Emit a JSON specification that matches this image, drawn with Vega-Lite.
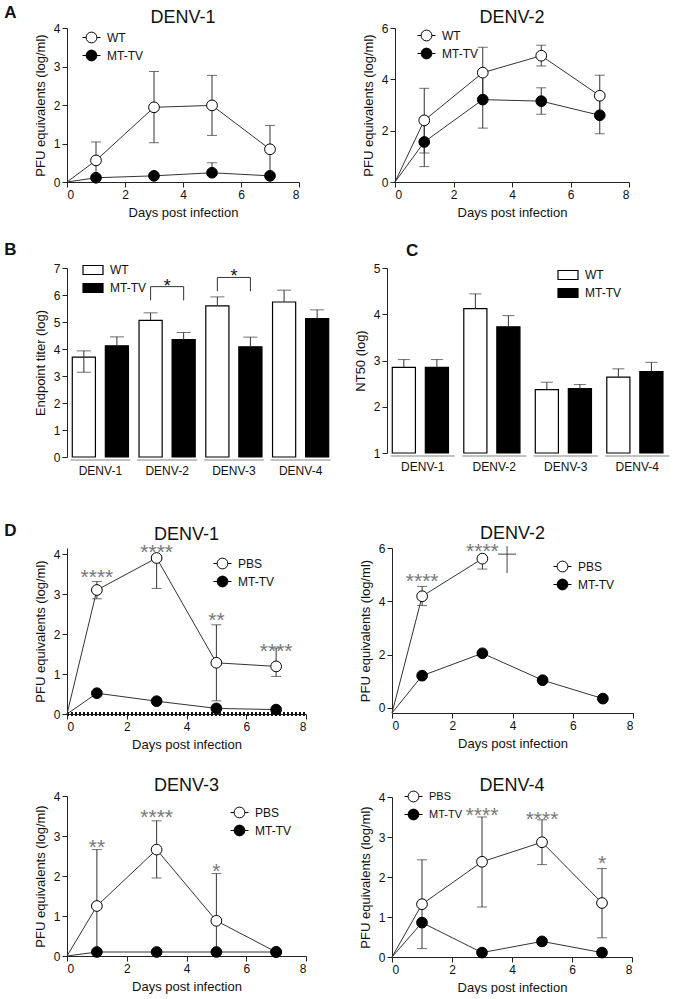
{
 "$schema": "https://vega.github.io/schema/vega-lite/v6.json",
 "padding": {"left": 4, "top": 4, "right": 0, "bottom": 0},
 "config": {
  "font": "Liberation Sans",
  "view": {"stroke": null},
  "axis": {"grid": false, "domainColor": "#222", "tickColor": "#222", "labelColor": "#111", "titleColor": "#111", "labelFontSize": 12, "titleFontSize": 13, "titleFontWeight": "normal", "tickSize": 5, "labelPadding": 2, "titlePadding": 6},
  "title": {"fontSize": 18, "fontWeight": "normal", "color": "#111"},
  "legend": {"labelFontSize": 12, "labelColor": "#111", "padding": 0, "rowPadding": 1, "labelOffset": 6, "symbolStrokeColor": "black", "symbolStrokeWidth": 1}
 },
 "resolve": {"scale": {"fill": "independent"}, "legend": {"fill": "independent"}},
 "datasets": {
  "tc": [
   {"panel":"A1","group":"WT","day":0,"mean":0},
   {"panel":"A1","group":"WT","day":1,"mean":0.56,"lo":0.08,"hi":1.04},
   {"panel":"A1","group":"WT","day":3,"mean":1.94,"lo":1.02,"hi":2.87},
   {"panel":"A1","group":"WT","day":5,"mean":1.99,"lo":1.21,"hi":2.77},
   {"panel":"A1","group":"WT","day":7,"mean":0.85,"lo":0.22,"hi":1.47},
   {"panel":"A1","group":"MT-TV","day":0,"mean":0},
   {"panel":"A1","group":"MT-TV","day":1,"mean":0.11},
   {"panel":"A1","group":"MT-TV","day":3,"mean":0.16},
   {"panel":"A1","group":"MT-TV","day":5,"mean":0.24,"lo":0.24,"hi":0.5},
   {"panel":"A1","group":"MT-TV","day":7,"mean":0.16},
   {"panel":"A2","group":"WT","day":0,"mean":0},
   {"panel":"A2","group":"WT","day":1,"mean":2.40,"lo":1.13,"hi":3.65},
   {"panel":"A2","group":"WT","day":3,"mean":4.26,"lo":3.27,"hi":5.25},
   {"panel":"A2","group":"WT","day":5,"mean":4.92,"lo":4.52,"hi":5.33},
   {"panel":"A2","group":"WT","day":7,"mean":3.36,"lo":2.56,"hi":4.16},
   {"panel":"A2","group":"MT-TV","day":0,"mean":0},
   {"panel":"A2","group":"MT-TV","day":1,"mean":1.56,"lo":0.60,"hi":2.52},
   {"panel":"A2","group":"MT-TV","day":3,"mean":3.21,"lo":2.10,"hi":4.32},
   {"panel":"A2","group":"MT-TV","day":5,"mean":3.15,"lo":2.64,"hi":3.67},
   {"panel":"A2","group":"MT-TV","day":7,"mean":2.60,"lo":1.88,"hi":3.32},
   {"panel":"D1","group":"PBS","day":0,"mean":0},
   {"panel":"D1","group":"PBS","day":1,"mean":3.10,"lo":2.88,"hi":3.31},
   {"panel":"D1","group":"PBS","day":3,"mean":3.90,"lo":3.14,"hi":3.90},
   {"panel":"D1","group":"PBS","day":5,"mean":1.28,"lo":0.33,"hi":2.23},
   {"panel":"D1","group":"PBS","day":7,"mean":1.19,"lo":0.94,"hi":1.65},
   {"panel":"D1","group":"MT-TV","day":0,"mean":0},
   {"panel":"D1","group":"MT-TV","day":1,"mean":0.52},
   {"panel":"D1","group":"MT-TV","day":3,"mean":0.32},
   {"panel":"D1","group":"MT-TV","day":5,"mean":0.14},
   {"panel":"D1","group":"MT-TV","day":7,"mean":0.11},
   {"panel":"D2","group":"PBS","day":0,"mean":-0.19},
   {"panel":"D2","group":"PBS","day":1,"mean":4.19,"lo":3.84,"hi":4.56},
   {"panel":"D2","group":"PBS","day":3,"mean":5.60,"lo":5.21,"hi":5.60},
   {"panel":"D2","group":"MT-TV","day":0,"mean":-0.19},
   {"panel":"D2","group":"MT-TV","day":1,"mean":1.21},
   {"panel":"D2","group":"MT-TV","day":3,"mean":2.05},
   {"panel":"D2","group":"MT-TV","day":5,"mean":1.04},
   {"panel":"D2","group":"MT-TV","day":7,"mean":0.35},
   {"panel":"D3","group":"PBS","day":0,"mean":0},
   {"panel":"D3","group":"PBS","day":1,"mean":1.25,"lo":0.10,"hi":2.66},
   {"panel":"D3","group":"PBS","day":3,"mean":2.66,"lo":1.95,"hi":3.38},
   {"panel":"D3","group":"PBS","day":5,"mean":0.88,"lo":0.10,"hi":2.06},
   {"panel":"D3","group":"PBS","day":7,"mean":0.10},
   {"panel":"D3","group":"MT-TV","day":0,"mean":0},
   {"panel":"D3","group":"MT-TV","day":1,"mean":0.10},
   {"panel":"D3","group":"MT-TV","day":3,"mean":0.10},
   {"panel":"D3","group":"MT-TV","day":5,"mean":0.10},
   {"panel":"D3","group":"MT-TV","day":7,"mean":0.10},
   {"panel":"D4","group":"PBS","day":0,"mean":0},
   {"panel":"D4","group":"PBS","day":1,"mean":1.32,"lo":0.21,"hi":2.43},
   {"panel":"D4","group":"PBS","day":3,"mean":2.38,"lo":1.25,"hi":3.50},
   {"panel":"D4","group":"PBS","day":5,"mean":2.87,"lo":2.31,"hi":3.43},
   {"panel":"D4","group":"PBS","day":7,"mean":1.35,"lo":0.48,"hi":2.21},
   {"panel":"D4","group":"MT-TV","day":0,"mean":0},
   {"panel":"D4","group":"MT-TV","day":1,"mean":0.86},
   {"panel":"D4","group":"MT-TV","day":3,"mean":0.11},
   {"panel":"D4","group":"MT-TV","day":5,"mean":0.39},
   {"panel":"D4","group":"MT-TV","day":7,"mean":0.11}
  ],
  "stars": [
   {"panel":"D1","day":1,"y":3.54,"label":"****"},
   {"panel":"D1","day":3,"y":4.17,"label":"****"},
   {"panel":"D1","day":5,"y":2.48,"label":"**"},
   {"panel":"D1","day":7,"y":1.69,"label":"****"},
   {"panel":"D2","day":1,"y":4.94,"label":"****"},
   {"panel":"D2","day":3,"y":6.09,"label":"****"},
   {"panel":"D3","day":1,"y":2.86,"label":"**"},
   {"panel":"D3","day":3,"y":3.61,"label":"****"},
   {"panel":"D3","day":5,"y":2.25,"label":"*"},
   {"panel":"D4","day":3,"y":3.68,"label":"****"},
   {"panel":"D4","day":5,"y":3.58,"label":"****"},
   {"panel":"D4","day":7,"y":2.48,"label":"*"}
  ],
  "dagger": [
   {"panel":"D2","x":3.82,"x2":3.82,"y":5.06,"y2":6.07},
   {"panel":"D2","x":3.52,"x2":4.12,"y":5.77,"y2":5.77}
  ],
  "bars": [
   {"panel":"B","virus":"DENV-1","group":"WT","value":3.70,"lo":3.14,"hi":3.93},
   {"panel":"B","virus":"DENV-1","group":"MT-TV","value":4.12,"lo":4.12,"hi":4.45},
   {"panel":"B","virus":"DENV-2","group":"WT","value":5.06,"lo":5.06,"hi":5.34},
   {"panel":"B","virus":"DENV-2","group":"MT-TV","value":4.35,"lo":4.35,"hi":4.61},
   {"panel":"B","virus":"DENV-3","group":"WT","value":5.60,"lo":5.60,"hi":5.93},
   {"panel":"B","virus":"DENV-3","group":"MT-TV","value":4.08,"lo":4.08,"hi":4.44},
   {"panel":"B","virus":"DENV-4","group":"WT","value":5.74,"lo":5.74,"hi":6.18},
   {"panel":"B","virus":"DENV-4","group":"MT-TV","value":5.13,"lo":5.13,"hi":5.45},
   {"panel":"C","virus":"DENV-1","group":"WT","value":2.85,"lo":2.85,"hi":3.02},
   {"panel":"C","virus":"DENV-1","group":"MT-TV","value":2.85,"lo":2.85,"hi":3.02},
   {"panel":"C","virus":"DENV-2","group":"WT","value":4.12,"lo":4.12,"hi":4.44},
   {"panel":"C","virus":"DENV-2","group":"MT-TV","value":3.73,"lo":3.73,"hi":3.97},
   {"panel":"C","virus":"DENV-3","group":"WT","value":2.37,"lo":2.37,"hi":2.53},
   {"panel":"C","virus":"DENV-3","group":"MT-TV","value":2.39,"lo":2.39,"hi":2.48},
   {"panel":"C","virus":"DENV-4","group":"WT","value":2.64,"lo":2.64,"hi":2.82},
   {"panel":"C","virus":"DENV-4","group":"MT-TV","value":2.76,"lo":2.76,"hi":2.96}
  ],
  "brackets": [
   {"panel":"B","id":"b2","virus":"DENV-2","group":"WT","y":5.80,"ord":1},
   {"panel":"B","id":"b2","virus":"DENV-2","group":"WT","y":6.31,"ord":2},
   {"panel":"B","id":"b2","virus":"DENV-2","group":"MT-TV","y":6.31,"ord":3},
   {"panel":"B","id":"b2","virus":"DENV-2","group":"MT-TV","y":5.80,"ord":4},
   {"panel":"B","id":"b3","virus":"DENV-3","group":"WT","y":6.14,"ord":1},
   {"panel":"B","id":"b3","virus":"DENV-3","group":"WT","y":6.65,"ord":2},
   {"panel":"B","id":"b3","virus":"DENV-3","group":"MT-TV","y":6.65,"ord":3},
   {"panel":"B","id":"b3","virus":"DENV-3","group":"MT-TV","y":6.14,"ord":4}
  ],
  "sig": [
   {"panel":"B","virus":"DENV-2","y":6.47,"label":"*"},
   {"panel":"B","virus":"DENV-3","y":6.84,"label":"*"}
  ]
 },
 "vconcat": [
  {
   "spacing": 22,
   "resolve": {"scale": {"fill": "independent"}, "legend": {"fill": "independent"}},
   "vconcat": [
    {
     "spacing": 62,
     "resolve": {"scale": {"fill": "independent"}, "legend": {"fill": "independent"}},
     "title": {"text": "A", "anchor": "start", "frame": "bounds", "dx": -30, "offset": -13, "fontSize": 17, "fontWeight": "bold"},
     "hconcat": [
      {
       "width": 232, "height": 154,
       "title": {"text": "DENV-1", "anchor": "middle", "frame": "group", "offset": -5},
       "data": {"name": "tc"},
       "transform": [{"filter": "datum.panel === 'A1'"}],
       "encoding": {"x": {"field": "day", "type": "quantitative", "scale": {"domain": [0, 8], "nice": false}, "axis": {"values": [0, 2, 4, 6, 8]}, "title": "Days post infection"}},
       "layer": [
        {"transform": [{"filter": "isValid(datum.hi)"}], "mark": {"type": "rule", "color": "#333", "strokeWidth": 1},
         "encoding": {"y": {"field": "lo", "type": "quantitative", "scale": {"domain": [0, 4], "nice": false}, "axis": {"values": [0, 1, 2, 3, 4]}, "title": "PFU equivalents (log/ml)"}, "y2": {"field": "hi"}}},
        {"transform": [{"filter": "isValid(datum.hi) && datum.hi > datum.mean"}], "mark": {"type": "tick", "orient": "horizontal", "size": 10, "thickness": 1, "color": "#333"},
         "encoding": {"y": {"field": "hi", "type": "quantitative", "axis": {"values": [0, 1, 2, 3, 4]}, "title": "PFU equivalents (log/ml)"}}},
        {"transform": [{"filter": "isValid(datum.lo) && datum.lo < datum.mean"}], "mark": {"type": "tick", "orient": "horizontal", "size": 10, "thickness": 1, "color": "#333"},
         "encoding": {"y": {"field": "lo", "type": "quantitative", "axis": {"values": [0, 1, 2, 3, 4]}, "title": "PFU equivalents (log/ml)"}}},
        {"mark": {"type": "line", "color": "#333", "strokeWidth": 1},
         "encoding": {"y": {"field": "mean", "type": "quantitative", "axis": {"values": [0, 1, 2, 3, 4]}, "title": "PFU equivalents (log/ml)"}, "detail": {"field": "group"}}},
        {"transform": [{"filter": "datum.day > 0"}], "mark": {"type": "circle", "size": 115, "stroke": "black", "strokeWidth": 1, "opacity": 1},
         "encoding": {"y": {"field": "mean", "type": "quantitative", "axis": {"values": [0, 1, 2, 3, 4]}, "title": "PFU equivalents (log/ml)"},
          "fill": {"field": "group", "type": "nominal", "scale": {"domain": ["WT", "MT-TV"], "range": ["white", "black"]},
           "legend": {"title": null, "orient": "none", "legendX": 15, "legendY": 0, "symbolType": "M-1,0L-0.6,0M0.6,0L1,0M0.6,0A0.6,0.6,0,1,1,-0.6,0A0.6,0.6,0,1,1,0.6,0Z", "symbolSize": 324}}}}
       ]
      },
      {
       "width": 234, "height": 154,
       "title": {"text": "DENV-2", "anchor": "middle", "frame": "group", "offset": -5},
       "data": {"name": "tc"},
       "transform": [{"filter": "datum.panel === 'A2'"}],
       "encoding": {"x": {"field": "day", "type": "quantitative", "scale": {"domain": [0, 8], "nice": false}, "axis": {"values": [0, 2, 4, 6, 8]}, "title": "Days post infection"}},
       "layer": [
        {"transform": [{"filter": "isValid(datum.hi)"}], "mark": {"type": "rule", "color": "#333", "strokeWidth": 1},
         "encoding": {"y": {"field": "lo", "type": "quantitative", "scale": {"domain": [0, 6], "nice": false}, "axis": {"values": [0, 2, 4, 6]}, "title": "PFU equivalents (log/ml)"}, "y2": {"field": "hi"}}},
        {"transform": [{"filter": "isValid(datum.hi) && datum.hi > datum.mean"}], "mark": {"type": "tick", "orient": "horizontal", "size": 10, "thickness": 1, "color": "#333"},
         "encoding": {"y": {"field": "hi", "type": "quantitative", "axis": {"values": [0, 2, 4, 6]}, "title": "PFU equivalents (log/ml)"}}},
        {"transform": [{"filter": "isValid(datum.lo) && datum.lo < datum.mean"}], "mark": {"type": "tick", "orient": "horizontal", "size": 10, "thickness": 1, "color": "#333"},
         "encoding": {"y": {"field": "lo", "type": "quantitative", "axis": {"values": [0, 2, 4, 6]}, "title": "PFU equivalents (log/ml)"}}},
        {"mark": {"type": "line", "color": "#333", "strokeWidth": 1},
         "encoding": {"y": {"field": "mean", "type": "quantitative", "axis": {"values": [0, 2, 4, 6]}, "title": "PFU equivalents (log/ml)"}, "detail": {"field": "group"}}},
        {"transform": [{"filter": "datum.day > 0"}], "mark": {"type": "circle", "size": 115, "stroke": "black", "strokeWidth": 1, "opacity": 1},
         "encoding": {"y": {"field": "mean", "type": "quantitative", "axis": {"values": [0, 2, 4, 6]}, "title": "PFU equivalents (log/ml)"},
          "fill": {"field": "group", "type": "nominal", "scale": {"domain": ["WT", "MT-TV"], "range": ["white", "black"]},
           "legend": {"title": null, "orient": "none", "legendX": 22, "legendY": -2, "symbolType": "M-1,0L-0.6,0M0.6,0L1,0M0.6,0A0.6,0.6,0,1,1,-0.6,0A0.6,0.6,0,1,1,0.6,0Z", "symbolSize": 324}}}}
       ]
      }
     ]
    },
    {
     "spacing": 20,
     "resolve": {"scale": {"fill": "independent"}, "legend": {"fill": "independent"}},
     "hconcat": [
      {
       "width": 267, "height": 189,
       "title": {"text": "B", "anchor": "start", "frame": "bounds", "dx": -30, "offset": 0, "fontSize": 17, "fontWeight": "bold"},
       "data": {"name": "bars"},
       "transform": [{"filter": "datum.panel === 'B'"}],
       "encoding": {"x": {"field": "virus", "type": "nominal", "scale": {"paddingInner": 0, "paddingOuter": 0}, "axis": {"title": null, "domain": false, "ticks": false, "labelAngle": 0, "labelPadding": 8}}},
       "layer": [
        {"mark": {"type": "tick", "orient": "horizontal", "size": 60, "thickness": 1, "color": "#999", "yOffset": 3},
         "encoding": {"y": {"datum": 0, "type": "quantitative", "scale": {"domain": [0, 7], "nice": false}, "axis": {"values": [0, 1, 2, 3, 4, 5, 6, 7]}, "title": "Endpoint titer (log)"}}},
        {"mark": {"type": "bar", "stroke": "black", "strokeWidth": 1.2},
         "encoding": {"xOffset": {"field": "group", "scale": {"domain": ["WT", "MT-TV"], "paddingInner": 0.3, "paddingOuter": 0.16}},
          "y": {"field": "value", "type": "quantitative", "axis": {"values": [0, 1, 2, 3, 4, 5, 6, 7]}, "title": "Endpoint titer (log)"},
          "fill": {"field": "group", "type": "nominal", "scale": {"domain": ["WT", "MT-TV"], "range": ["white", "black"]},
           "legend": {"title": null, "orient": "none", "legendX": 15, "legendY": -9, "symbolType": "M-1,-0.45H1V0.45H-1Z", "symbolSize": 400, "symbolStrokeWidth": 1.2, "rowPadding": 0}}}},
        {"mark": {"type": "rule", "color": "#333", "strokeWidth": 1},
         "encoding": {"xOffset": {"field": "group"}, "y": {"field": "lo", "type": "quantitative", "axis": {"values": [0, 1, 2, 3, 4, 5, 6, 7]}, "title": "Endpoint titer (log)"}, "y2": {"field": "hi"}}},
        {"mark": {"type": "tick", "orient": "horizontal", "size": 14, "thickness": 1, "color": "#333"},
         "encoding": {"xOffset": {"field": "group"}, "y": {"field": "hi", "type": "quantitative", "axis": {"values": [0, 1, 2, 3, 4, 5, 6, 7]}, "title": "Endpoint titer (log)"}}},
        {"transform": [{"filter": "datum.lo < datum.value"}], "mark": {"type": "tick", "orient": "horizontal", "size": 14, "thickness": 1, "color": "#333"},
         "encoding": {"xOffset": {"field": "group"}, "y": {"field": "lo", "type": "quantitative", "axis": {"values": [0, 1, 2, 3, 4, 5, 6, 7]}, "title": "Endpoint titer (log)"}}},
        {"data": {"name": "brackets"}, "mark": {"type": "line", "color": "#333", "strokeWidth": 1},
         "encoding": {"xOffset": {"field": "group"}, "y": {"field": "y", "type": "quantitative", "axis": {"values": [0, 1, 2, 3, 4, 5, 6, 7]}, "title": "Endpoint titer (log)"}, "detail": {"field": "id"}, "order": {"field": "ord"}}},
        {"data": {"name": "sig"}, "mark": {"type": "text", "fontSize": 18, "color": "#111", "baseline": "alphabetic", "dy": 10},
         "encoding": {"y": {"field": "y", "type": "quantitative", "axis": {"values": [0, 1, 2, 3, 4, 5, 6, 7]}, "title": "Endpoint titer (log)"}, "text": {"field": "label"}}}
       ]
      },
      {
       "width": 286, "height": 185,
       "title": {"text": "C", "anchor": "start", "frame": "group", "dx": 19, "offset": 2, "fontSize": 17, "fontWeight": "bold"},
       "data": {"name": "bars"},
       "transform": [{"filter": "datum.panel === 'C'"}],
       "encoding": {"x": {"field": "virus", "type": "nominal", "scale": {"paddingInner": 0, "paddingOuter": 0}, "axis": {"title": null, "domain": false, "ticks": false, "labelAngle": 0, "labelPadding": 8}}},
       "layer": [
        {"mark": {"type": "tick", "orient": "horizontal", "size": 64, "thickness": 1, "color": "#999", "yOffset": 3},
         "encoding": {"y": {"datum": 1, "type": "quantitative", "scale": {"domain": [1, 5], "nice": false}, "axis": {"values": [1, 2, 3, 4, 5]}, "title": "NT50 (log)"}}},
        {"mark": {"type": "bar", "stroke": "black", "strokeWidth": 1.2},
         "encoding": {"xOffset": {"field": "group", "scale": {"domain": ["WT", "MT-TV"], "paddingInner": 0.31, "paddingOuter": 0.16}},
          "y": {"field": "value", "type": "quantitative", "axis": {"values": [1, 2, 3, 4, 5]}, "title": "NT50 (log)"}, "y2": {"datum": 1},
          "fill": {"field": "group", "type": "nominal", "scale": {"domain": ["WT", "MT-TV"], "range": ["white", "black"]},
           "legend": {"title": null, "orient": "none", "legendX": 170, "legendY": -4, "symbolType": "M-1,-0.45H1V0.45H-1Z", "symbolSize": 400, "symbolStrokeWidth": 1.2, "rowPadding": 0}}}},
        {"mark": {"type": "rule", "color": "#333", "strokeWidth": 1},
         "encoding": {"xOffset": {"field": "group"}, "y": {"field": "lo", "type": "quantitative", "axis": {"values": [1, 2, 3, 4, 5]}, "title": "NT50 (log)"}, "y2": {"field": "hi"}}},
        {"mark": {"type": "tick", "orient": "horizontal", "size": 12, "thickness": 1, "color": "#333"},
         "encoding": {"xOffset": {"field": "group"}, "y": {"field": "hi", "type": "quantitative", "axis": {"values": [1, 2, 3, 4, 5]}, "title": "NT50 (log)"}}}
       ]
      }
     ]
    }
   ]
  },
  {
   "columns": 2,
   "align": "none",
   "spacing": {"row": 26, "column": 51},
   "resolve": {"scale": {"fill": "independent"}, "legend": {"fill": "independent"}},
   "title": {"text": "D", "anchor": "start", "frame": "bounds", "dx": -30, "offset": -15, "fontSize": 17, "fontWeight": "bold"},
   "concat": [
    {
     "width": 239, "height": 166,
     "title": {"text": "DENV-1", "anchor": "middle", "frame": "group", "offset": -2},
     "data": {"name": "tc"},
     "transform": [{"filter": "datum.panel === 'D1'"}],
     "encoding": {"x": {"field": "day", "type": "quantitative", "scale": {"domain": [0, 8], "nice": false}, "axis": {"values": [0, 2, 4, 6, 8]}, "title": "Days post infection"}},
     "layer": [
      {"transform": [{"filter": "isValid(datum.hi)"}], "mark": {"type": "rule", "color": "#333", "strokeWidth": 1},
       "encoding": {"y": {"field": "lo", "type": "quantitative", "scale": {"domain": [0, 4.15], "nice": false}, "axis": {"values": [0, 1, 2, 3, 4]}, "title": "PFU equivalents (log/ml)"}, "y2": {"field": "hi"}}},
      {"transform": [{"filter": "isValid(datum.hi) && datum.hi > datum.mean"}], "mark": {"type": "tick", "orient": "horizontal", "size": 10, "thickness": 1, "color": "#333"},
       "encoding": {"y": {"field": "hi", "type": "quantitative", "axis": {"values": [0, 1, 2, 3, 4]}, "title": "PFU equivalents (log/ml)"}}},
      {"transform": [{"filter": "isValid(datum.lo) && datum.lo < datum.mean"}], "mark": {"type": "tick", "orient": "horizontal", "size": 10, "thickness": 1, "color": "#333"},
       "encoding": {"y": {"field": "lo", "type": "quantitative", "axis": {"values": [0, 1, 2, 3, 4]}, "title": "PFU equivalents (log/ml)"}}},
      {"mark": {"type": "rule", "color": "#111", "strokeWidth": 3, "strokeDash": [1.5, 2.5]},
       "encoding": {"x": {"datum": 0}, "x2": {"datum": 8}, "y": {"datum": 0}}},
      {"mark": {"type": "line", "color": "#333", "strokeWidth": 1},
       "encoding": {"y": {"field": "mean", "type": "quantitative", "axis": {"values": [0, 1, 2, 3, 4]}, "title": "PFU equivalents (log/ml)"}, "detail": {"field": "group"}}},
      {"transform": [{"filter": "datum.day > 0"}], "mark": {"type": "circle", "size": 115, "stroke": "black", "strokeWidth": 1, "opacity": 1},
       "encoding": {"y": {"field": "mean", "type": "quantitative", "axis": {"values": [0, 1, 2, 3, 4]}, "title": "PFU equivalents (log/ml)"},
        "fill": {"field": "group", "type": "nominal", "scale": {"domain": ["PBS", "MT-TV"], "range": ["white", "black"]},
         "legend": {"title": null, "orient": "none", "legendX": 146, "legendY": 6, "symbolType": "M-1,0L-0.6,0M0.6,0L1,0M0.6,0A0.6,0.6,0,1,1,-0.6,0A0.6,0.6,0,1,1,0.6,0Z", "symbolSize": 324}}}},
      {"data": {"name": "stars"}, "transform": [{"filter": "datum.panel === 'D1'"}], "mark": {"type": "text", "fontSize": 21, "color": "#777", "baseline": "alphabetic", "dy": 12},
       "encoding": {"y": {"field": "y", "type": "quantitative", "axis": {"values": [0, 1, 2, 3, 4]}, "title": "PFU equivalents (log/ml)"}, "text": {"field": "label"}}}
     ]
    },
    {
     "width": 241, "height": 165,
     "title": {"text": "DENV-2", "anchor": "middle", "frame": "group", "offset": -2},
     "data": {"name": "tc"},
     "transform": [{"filter": "datum.panel === 'D2'"}],
     "encoding": {"x": {"field": "day", "type": "quantitative", "scale": {"domain": [0, 8], "nice": false}, "axis": {"values": [0, 2, 4, 6, 8]}, "title": "Days post infection"}},
     "layer": [
      {"transform": [{"filter": "isValid(datum.hi)"}], "mark": {"type": "rule", "color": "#333", "strokeWidth": 1},
       "encoding": {"y": {"field": "lo", "type": "quantitative", "scale": {"domain": [-0.19, 6], "nice": false}, "axis": {"values": [0, 2, 4, 6]}, "title": "PFU equivalents (log/ml)"}, "y2": {"field": "hi"}}},
      {"transform": [{"filter": "isValid(datum.hi) && datum.hi > datum.mean"}], "mark": {"type": "tick", "orient": "horizontal", "size": 10, "thickness": 1, "color": "#333"},
       "encoding": {"y": {"field": "hi", "type": "quantitative", "axis": {"values": [0, 2, 4, 6]}, "title": "PFU equivalents (log/ml)"}}},
      {"transform": [{"filter": "isValid(datum.lo) && datum.lo < datum.mean"}], "mark": {"type": "tick", "orient": "horizontal", "size": 10, "thickness": 1, "color": "#333"},
       "encoding": {"y": {"field": "lo", "type": "quantitative", "axis": {"values": [0, 2, 4, 6]}, "title": "PFU equivalents (log/ml)"}}},
      {"mark": {"type": "line", "color": "#333", "strokeWidth": 1},
       "encoding": {"y": {"field": "mean", "type": "quantitative", "axis": {"values": [0, 2, 4, 6]}, "title": "PFU equivalents (log/ml)"}, "detail": {"field": "group"}}},
      {"transform": [{"filter": "datum.day > 0"}], "mark": {"type": "circle", "size": 115, "stroke": "black", "strokeWidth": 1, "opacity": 1},
       "encoding": {"y": {"field": "mean", "type": "quantitative", "axis": {"values": [0, 2, 4, 6]}, "title": "PFU equivalents (log/ml)"},
        "fill": {"field": "group", "type": "nominal", "scale": {"domain": ["PBS", "MT-TV"], "range": ["white", "black"]},
         "legend": {"title": null, "orient": "none", "legendX": 161, "legendY": 9, "symbolType": "M-1,0L-0.6,0M0.6,0L1,0M0.6,0A0.6,0.6,0,1,1,-0.6,0A0.6,0.6,0,1,1,0.6,0Z", "symbolSize": 324}}}},
      {"data": {"name": "stars"}, "transform": [{"filter": "datum.panel === 'D2'"}], "mark": {"type": "text", "fontSize": 21, "color": "#777", "baseline": "alphabetic", "dy": 12},
       "encoding": {"y": {"field": "y", "type": "quantitative", "axis": {"values": [0, 2, 4, 6]}, "title": "PFU equivalents (log/ml)"}, "text": {"field": "label"}}},
      {"data": {"name": "dagger"}, "transform": [{"filter": "datum.panel === 'D2'"}], "mark": {"type": "rule", "color": "#444", "strokeWidth": 1},
       "encoding": {"x": {"field": "x", "type": "quantitative"}, "x2": {"field": "x2"}, "y": {"field": "y", "type": "quantitative", "axis": {"values": [0, 2, 4, 6]}, "title": "PFU equivalents (log/ml)"}, "y2": {"field": "y2"}}}
     ]
    },
    {
     "width": 239, "height": 160,
     "title": {"text": "DENV-3", "anchor": "middle", "frame": "group", "offset": -5},
     "data": {"name": "tc"},
     "transform": [{"filter": "datum.panel === 'D3'"}],
     "encoding": {"x": {"field": "day", "type": "quantitative", "scale": {"domain": [0, 8], "nice": false}, "axis": {"values": [0, 2, 4, 6, 8]}, "title": "Days post infection"}},
     "layer": [
      {"transform": [{"filter": "isValid(datum.hi)"}], "mark": {"type": "rule", "color": "#333", "strokeWidth": 1},
       "encoding": {"y": {"field": "lo", "type": "quantitative", "scale": {"domain": [0, 4], "nice": false}, "axis": {"values": [0, 1, 2, 3, 4]}, "title": "PFU equivalents (log/ml)"}, "y2": {"field": "hi"}}},
      {"transform": [{"filter": "isValid(datum.hi) && datum.hi > datum.mean"}], "mark": {"type": "tick", "orient": "horizontal", "size": 10, "thickness": 1, "color": "#333"},
       "encoding": {"y": {"field": "hi", "type": "quantitative", "axis": {"values": [0, 1, 2, 3, 4]}, "title": "PFU equivalents (log/ml)"}}},
      {"transform": [{"filter": "isValid(datum.lo) && datum.lo < datum.mean"}], "mark": {"type": "tick", "orient": "horizontal", "size": 10, "thickness": 1, "color": "#333"},
       "encoding": {"y": {"field": "lo", "type": "quantitative", "axis": {"values": [0, 1, 2, 3, 4]}, "title": "PFU equivalents (log/ml)"}}},
      {"mark": {"type": "line", "color": "#333", "strokeWidth": 1},
       "encoding": {"y": {"field": "mean", "type": "quantitative", "axis": {"values": [0, 1, 2, 3, 4]}, "title": "PFU equivalents (log/ml)"}, "detail": {"field": "group"}}},
      {"transform": [{"filter": "datum.day > 0"}], "mark": {"type": "circle", "size": 115, "stroke": "black", "strokeWidth": 1, "opacity": 1},
       "encoding": {"y": {"field": "mean", "type": "quantitative", "axis": {"values": [0, 1, 2, 3, 4]}, "title": "PFU equivalents (log/ml)"},
        "fill": {"field": "group", "type": "nominal", "scale": {"domain": ["PBS", "MT-TV"], "range": ["white", "black"]},
         "legend": {"title": null, "orient": "none", "legendX": 163, "legendY": 7, "symbolType": "M-1,0L-0.6,0M0.6,0L1,0M0.6,0A0.6,0.6,0,1,1,-0.6,0A0.6,0.6,0,1,1,0.6,0Z", "symbolSize": 324}}}},
      {"data": {"name": "stars"}, "transform": [{"filter": "datum.panel === 'D3'"}], "mark": {"type": "text", "fontSize": 21, "color": "#777", "baseline": "alphabetic", "dy": 12},
       "encoding": {"y": {"field": "y", "type": "quantitative", "axis": {"values": [0, 1, 2, 3, 4]}, "title": "PFU equivalents (log/ml)"}, "text": {"field": "label"}}}
     ]
    },
    {
     "width": 240, "height": 160,
     "title": {"text": "DENV-4", "anchor": "middle", "frame": "group", "offset": -8},
     "data": {"name": "tc"},
     "transform": [{"filter": "datum.panel === 'D4'"}],
     "encoding": {"x": {"field": "day", "type": "quantitative", "scale": {"domain": [0, 8], "nice": false}, "axis": {"values": [0, 2, 4, 6, 8]}, "title": "Days post infection"}},
     "layer": [
      {"transform": [{"filter": "isValid(datum.hi)"}], "mark": {"type": "rule", "color": "#333", "strokeWidth": 1},
       "encoding": {"y": {"field": "lo", "type": "quantitative", "scale": {"domain": [0, 4], "nice": false}, "axis": {"values": [0, 1, 2, 3, 4]}, "title": "PFU equivalents (log/ml)"}, "y2": {"field": "hi"}}},
      {"transform": [{"filter": "isValid(datum.hi) && datum.hi > datum.mean"}], "mark": {"type": "tick", "orient": "horizontal", "size": 10, "thickness": 1, "color": "#333"},
       "encoding": {"y": {"field": "hi", "type": "quantitative", "axis": {"values": [0, 1, 2, 3, 4]}, "title": "PFU equivalents (log/ml)"}}},
      {"transform": [{"filter": "isValid(datum.lo) && datum.lo < datum.mean"}], "mark": {"type": "tick", "orient": "horizontal", "size": 10, "thickness": 1, "color": "#333"},
       "encoding": {"y": {"field": "lo", "type": "quantitative", "axis": {"values": [0, 1, 2, 3, 4]}, "title": "PFU equivalents (log/ml)"}}},
      {"mark": {"type": "line", "color": "#333", "strokeWidth": 1},
       "encoding": {"y": {"field": "mean", "type": "quantitative", "axis": {"values": [0, 1, 2, 3, 4]}, "title": "PFU equivalents (log/ml)"}, "detail": {"field": "group"}}},
      {"transform": [{"filter": "datum.day > 0"}], "mark": {"type": "circle", "size": 115, "stroke": "black", "strokeWidth": 1, "opacity": 1},
       "encoding": {"y": {"field": "mean", "type": "quantitative", "axis": {"values": [0, 1, 2, 3, 4]}, "title": "PFU equivalents (log/ml)"},
        "fill": {"field": "group", "type": "nominal", "scale": {"domain": ["PBS", "MT-TV"], "range": ["white", "black"]},
         "legend": {"title": null, "orient": "none", "legendX": 12, "legendY": -10, "labelFontSize": 11, "symbolType": "M-1,0L-0.6,0M0.6,0L1,0M0.6,0A0.6,0.6,0,1,1,-0.6,0A0.6,0.6,0,1,1,0.6,0Z", "symbolSize": 324}}}},
      {"data": {"name": "stars"}, "transform": [{"filter": "datum.panel === 'D4'"}], "mark": {"type": "text", "fontSize": 21, "color": "#777", "baseline": "alphabetic", "dy": 12},
       "encoding": {"y": {"field": "y", "type": "quantitative", "axis": {"values": [0, 1, 2, 3, 4]}, "title": "PFU equivalents (log/ml)"}, "text": {"field": "label"}}}
     ]
    }
   ]
  }
 ],
 "spacing": 45
}
